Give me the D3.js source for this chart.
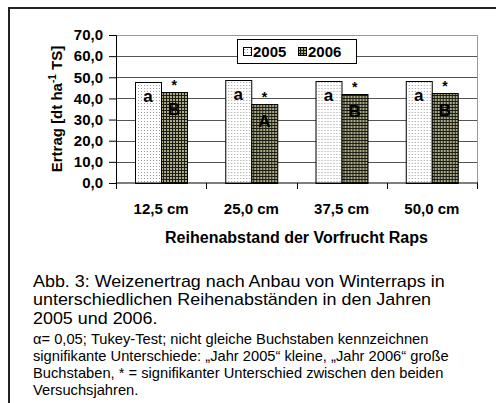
<!DOCTYPE html>
<html>
<head>
<meta charset="utf-8">
<script src="https://cdn.jsdelivr.net/npm/d3@7"></script>
<style>
  html, body { margin: 0; padding: 0; background: #fff; }
  svg { display: block; font-family: Arial, "Liberation Sans", sans-serif; }
</style>
</head>
<body>
<div id="chart"></div>
<script>
// Chart data
var categories = ["12,5 cm", "25,0 cm", "37,5 cm", "50,0 cm"];
var years = ["2005", "2006"];
var values2005 = [47.8, 48.9, 48.3, 48.3];
var values2006 = [42.9, 37.3, 41.9, 42.6];
var letters2005 = ["a", "a", "a", "a"];
var letters2006 = ["B", "A", "B", "B"];
var stars2006 = ["*", "*", "*", "*"];
var yTicks = [0, 10, 20, 30, 40, 50, 60, 70];

var captionLines = [
    "Abb. 3: Weizenertrag nach Anbau von Winterraps in",
    "unterschiedlichen Reihenabständen in den Jahren",
    "2005 und 2006."
];
var noteLines = [
    "α= 0,05; Tukey-Test; nicht gleiche Buchstaben kennzeichnen",
    "signifikante Unterschiede: „Jahr 2005“ kleine, „Jahr 2006“ große",
    "Buchstaben, * = signifikanter Unterschied zwischen den beiden",
    "Versuchsjahren."
];

var width = 496, height = 403;
var plot = { left: 116, right: 477, top: 35, bottom: 183 };

var svg = d3.select('#chart').append('svg')
    .attr('width', width)
    .attr('height', height);

// patterns for the two years
var defs = svg.append('defs');
var p1 = defs.append('pattern').attr('id', 'p2005')
    .attr('patternUnits', 'userSpaceOnUse').attr('width', 3).attr('height', 3);
p1.append('rect').attr('width', 3).attr('height', 3).attr('fill', '#fff');
p1.append('rect').attr('x', 1).attr('y', 1).attr('width', 1).attr('height', 1).attr('fill', '#9a9a9a');

var p2 = defs.append('pattern').attr('id', 'p2006')
    .attr('patternUnits', 'userSpaceOnUse').attr('width', 3).attr('height', 3);
p2.append('rect').attr('width', 3).attr('height', 3).attr('fill', '#1c1c12');
p2.append('rect').attr('width', 2).attr('height', 2).attr('fill', '#abab8a');

var fills = { "2005": "url(#p2005)", "2006": "url(#p2006)" };

// frame of the figure box
svg.append('path')
    .attr('d', 'M9,' + height + 'V8H' + width)
    .attr('fill', 'none')
    .attr('stroke', '#222')
    .attr('stroke-width', 2);

var x0 = d3.scaleBand().domain(categories).range([plot.left, plot.right]).padding(0);
var x1 = d3.scaleBand().domain(years).range([0, x0.bandwidth()])
    .paddingInner(0).paddingOuter(0.72);
var y = d3.scaleLinear().domain([0, 70]).range([plot.bottom, plot.top]);

var fmt = function(v) { return d3.format('.1f')(v).replace('.', ','); };

// gridlines
svg.append('g').selectAll('line')
    .data(yTicks.filter(function(t) { return t > 0; }))
    .enter().append('line')
    .attr('x1', plot.left).attr('x2', plot.right)
    .attr('y1', function(d) { return Math.round(y(d)) + 0.5; })
    .attr('y2', function(d) { return Math.round(y(d)) + 0.5; })
    .attr('stroke', function(d) { return d === 70 ? '#999' : '#555'; })
    .attr('stroke-width', 1);

svg.append('line')
    .attr('x1', plot.right + 0.5).attr('x2', plot.right + 0.5)
    .attr('y1', y(70)).attr('y2', y(0))
    .attr('stroke', '#999');

// bars
var rows = categories.map(function(c, i) {
    return { cat: c, vals: [
        { year: "2005", v: values2005[i], letter: letters2005[i] },
        { year: "2006", v: values2006[i], letter: letters2006[i], star: stars2006[i] }
    ] };
});

var groups = svg.append('g').selectAll('g')
    .data(rows).enter().append('g')
    .attr('transform', function(d) { return 'translate(' + x0(d.cat) + ',0)'; });

groups.selectAll('rect')
    .data(function(d) { return d.vals; })
    .enter().append('rect')
    .attr('x', function(d) { return Math.round(x1(d.year)) + 0.5; })
    .attr('y', function(d) { return Math.round(y(d.v)) + 0.5; })
    .attr('width', Math.round(x1.bandwidth()))
    .attr('height', function(d) { return Math.round(y(0)) - Math.round(y(d.v)); })
    .attr('fill', function(d) { return fills[d.year]; })
    .attr('stroke', '#000')
    .attr('stroke-width', 1);

groups.selectAll('text.letter')
    .data(function(d) { return d.vals; })
    .enter().append('text')
    .attr('class', 'letter')
    .attr('x', function(d) { return x1(d.year) + x1.bandwidth() / 2; })
    .attr('y', function(d) { return y(d.v) + (d.year === "2005" ? 20 : 23); })
    .attr('text-anchor', 'middle')
    .style('font-size', '17px')
    .style('font-weight', 'bold')
    .text(function(d) { return d.letter; });

groups.selectAll('text.star')
    .data(function(d) { return d.vals.filter(function(v) { return v.star; }); })
    .enter().append('text')
    .attr('class', 'star')
    .attr('x', function(d) { return x1(d.year) + x1.bandwidth() / 2; })
    .attr('y', function(d) { return y(d.v) - 2; })
    .attr('text-anchor', 'middle')
    .style('font-size', '14px')
    .style('font-weight', 'bold')
    .text(function(d) { return d.star; });

// axes
var yAxis = svg.append('g')
    .attr('transform', 'translate(' + plot.left + ',0)')
    .call(d3.axisLeft(y).tickValues(yTicks).tickFormat(fmt).tickSize(7).tickPadding(6));
yAxis.select('.domain').attr('stroke', '#000');
yAxis.selectAll('text')
    .style('font-size', '15px')
    .style('font-weight', 'bold')
    .attr('fill', '#000');

var xAxis = svg.append('g')
    .attr('transform', 'translate(0,' + plot.bottom + ')')
    .call(d3.axisBottom(x0).tickSize(0).tickPadding(0));
xAxis.select('.domain').remove();
xAxis.append('line')
    .attr('x1', plot.left).attr('x2', plot.right + 1)
    .attr('stroke', '#000');
xAxis.selectAll('.tick line').remove();
xAxis.selectAll('line.sep')
    .data(categories.map(function(c) { return x0(c); }).concat([plot.right]))
    .enter().append('line')
    .attr('class', 'sep')
    .attr('x1', function(d) { return Math.round(d) + 0.5; })
    .attr('x2', function(d) { return Math.round(d) + 0.5; })
    .attr('y1', 0).attr('y2', 6)
    .attr('stroke', '#000');
xAxis.selectAll('.tick text')
    .attr('y', 31)
    .attr('dy', 0)
    .style('font-size', '15px')
    .style('font-weight', 'bold')
    .attr('fill', '#000');

// axis titles
svg.append('text')
    .attr('x', (plot.left + plot.right) / 2)
    .attr('y', 243)
    .attr('text-anchor', 'middle')
    .style('font-size', '16px')
    .style('font-weight', 'bold')
    .text('Reihenabstand der Vorfrucht Raps');

var yt = svg.append('text')
    .attr('transform', 'translate(62,109) rotate(-90)')
    .attr('text-anchor', 'middle')
    .style('font-size', '15px')
    .style('font-weight', 'bold');
yt.append('tspan').text('Ertrag [dt ha');
yt.append('tspan').attr('dy', -6).style('font-size', '10px').text('-1');
yt.append('tspan').attr('dy', 6).text(' TS]');

// legend
var legend = svg.append('g').attr('transform', 'translate(237,39)');
legend.append('rect')
    .attr('x', 0.5).attr('y', 0.5).attr('width', 119).attr('height', 24)
    .attr('fill', '#fff').attr('stroke', '#000');
var items = legend.selectAll('g.item').data(years).enter().append('g')
    .attr('class', 'item')
    .attr('transform', function(d, i) { return 'translate(' + (6 + i * 55) + ',0)'; });
items.append('rect')
    .attr('x', 0.5).attr('y', 8.5).attr('width', 8).attr('height', 8)
    .attr('fill', function(d) { return fills[d]; })
    .attr('stroke', '#000');
items.append('text')
    .attr('x', 10).attr('y', 18)
    .style('font-size', '15px')
    .style('font-weight', 'bold')
    .text(function(d) { return d; });

// caption (the source text is set a little wide, hence the x scale)
svg.append('g')
    .attr('transform', 'translate(33,0) scale(1.12,1)')
    .selectAll('text')
    .data(captionLines).enter().append('text')
    .attr('x', 0)
    .attr('y', function(d, i) { return 287 + i * 18.5; })
    .style('font-size', '16px')
    .text(function(d) { return d; });

svg.append('g')
    .attr('transform', 'translate(33,0) scale(1.05,1)')
    .selectAll('text')
    .data(noteLines).enter().append('text')
    .attr('x', 0)
    .attr('y', function(d, i) { return 344 + i * 17; })
    .style('font-size', '14px')
    .text(function(d) { return d; });
</script>
</body>
</html>
